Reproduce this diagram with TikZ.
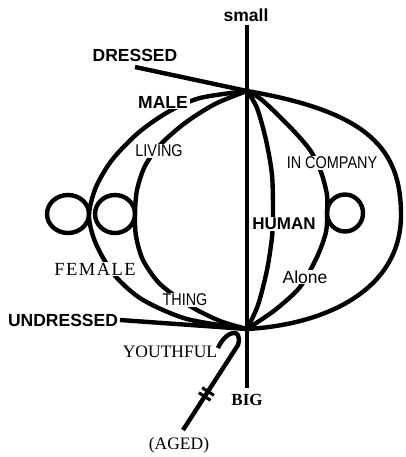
\documentclass[tikz,border=0pt]{standalone}
\usepackage{fontspec}
\setmainfont{Liberation Serif}
\setsansfont{Liberation Sans}
\newfontfamily\condsans[FakeStretch=0.85]{Liberation Sans}
\newfontfamily\femfont[LetterSpace=8]{Liberation Serif}
\begin{document}
\begin{tikzpicture}[x=1pt,y=1pt,
  ln/.style={line width=4.4pt},
  tk/.style={line width=3pt},
  lab/.style={fill=white,inner xsep=2pt,inner ysep=1pt},
  bsans/.style={font=\fontsize{17.5}{20}\selectfont\sffamily\bfseries,inner sep=0pt},
  hsans/.style={font=\fontsize{17}{20}\selectfont\sffamily\bfseries,inner sep=0pt},
  csans/.style={font=\fontsize{17}{20}\selectfont\condsans,inner sep=0pt},
  rsans/.style={font=\fontsize{17.5}{20}\selectfont\sffamily,inner sep=0pt},
  serif/.style={font=\fontsize{17.5}{20}\selectfont\rmfamily,inner sep=0pt},
  bserif/.style={font=\fontsize{17}{20}\selectfont\rmfamily\bfseries,inner sep=0pt},
  fem/.style={font=\fontsize{18.5}{20}\selectfont\femfont,inner sep=0pt}]
\useasboundingbox (0,0) rectangle (406,-457);
% key points
\coordinate (T) at (247,-91);
\coordinate (B) at (247,-329);
\coordinate (vt) at (247,-25);
\coordinate (vb) at (247,-388);
\coordinate (dr) at (135,-67);
\coordinate (ud) at (120,-320);
\coordinate (c1) at (68,-214);
\coordinate (c2) at (115,-214);
\coordinate (c3) at (345,-213);
\coordinate (hk) at (218,-348);
\coordinate (hb) at (238,-345);
\coordinate (ag) at (183,-430);
% vertical axis
\draw[ln] (vt) -- (vb);
% dressed line and outer right curve
\draw[ln] (dr) -- (T) .. controls (370,-112) and (401,-150) .. (401,-215)
  .. controls (401,-292) and (322,-325) .. (B);
\draw[ln] (ud) -- (B);
% outer left arc
\draw[ln] plot[smooth] coordinates {(T) (200,-98) (168,-112) (138,-133) (112,-160)
  (96,-187) (89,-214) (93,-236) (102,-256) (117,-278) (143,-300) (187,-319) (B)};
% inner left arc
\draw[ln] plot[smooth] coordinates {(T) (215,-104) (185,-123) (160,-145) (145,-166)
  (137,-190) (135,-214) (136,-236) (143,-260) (160,-284) (190,-306) (220,-321) (B)};
% inner right arc
\draw[ln] plot[smooth] coordinates {(T) (257,-108) (266,-140) (272,-175) (273,-213)
  (272,-237) (267,-270) (258,-305) (B)};
% second right arc
\draw[ln] plot[smooth] coordinates {(T) (262,-100) (290,-127) (310,-150) (321,-172)
  (327,-195) (327,-213) (326,-232) (317,-257) (300,-287) (275,-310) (B)};
% loops
\draw[ln] (c1) ellipse [x radius=21pt, y radius=19pt];
\draw[ln] (c2) ellipse [x radius=20pt, y radius=19pt];
\draw[ln] (c3) ellipse [x radius=18pt, y radius=18.5pt];
% hook
\draw[ln] (hk) .. controls (226,-330) and (243,-327) .. (hb) -- (ag);
\draw[tk] (202.1,-387.7) -- (213.9,-395.3);
\draw[tk] (198.8,-392.7) -- (210.6,-400.3);
% labels
\node[bsans] (small) at (246,-15) {small};
\node[bsans] (dressed) at (135,-55) {DRESSED};
\node[bsans,lab] (male) at (163,-102) {MALE};
\node[csans,lab] (living) at (159,-151) {LIVING};
\node[csans,lab] (incompany) at (332,-163) {IN COMPANY};
\node[hsans,lab] (human) at (284,-224) {HUMAN};
\node[fem,lab] (female) at (95,-269) {FEMALE};
\node[csans,lab] (thing) at (185,-300) {THING};
\node[rsans,lab] (alone) at (305,-277) {Alone};
\node[bsans] (undressed) at (63,-320) {UNDRESSED};
\node[serif] (youthful) at (170,-352) {YOUTHFUL};
\node[bserif] (big) at (247,-400) {BIG};
\node[serif] (aged) at (179,-445) {(AGED)};
\end{tikzpicture}
\end{document}
